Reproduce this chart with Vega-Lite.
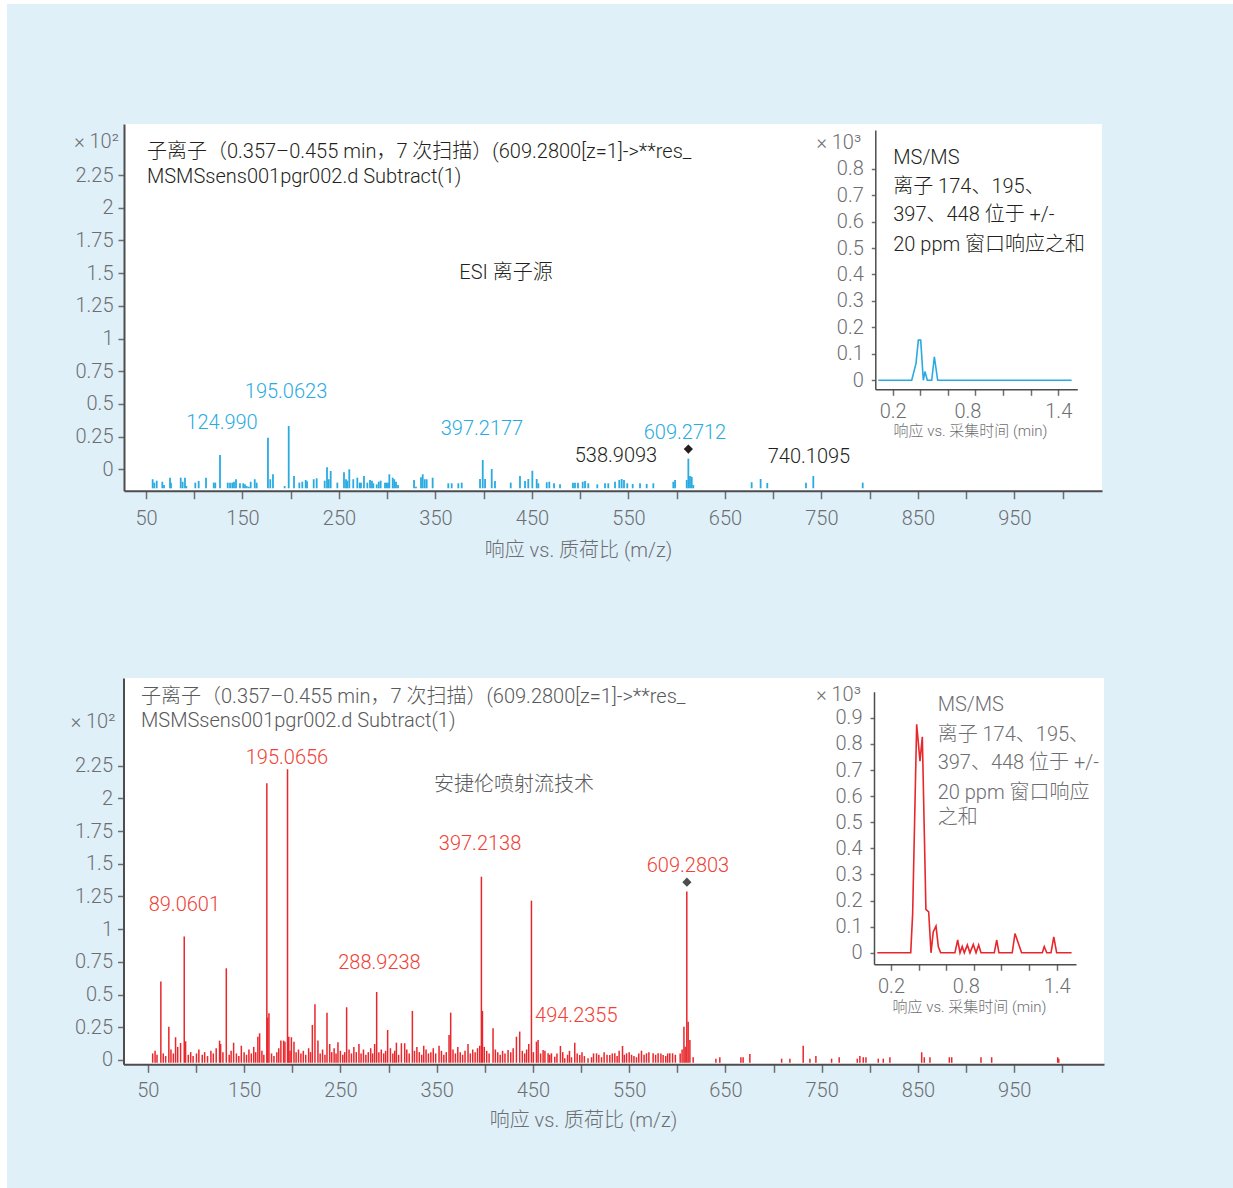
{
  "$schema": "https://vega.github.io/schema/vega-lite/v6.json",
  "width": 1226,
  "height": 1184,
  "autosize": {"type": "none"},
  "padding": {"left": 7, "top": 4, "right": 0, "bottom": 0},
  "background": "#ffffff",
  "config": {
    "view": {"stroke": null, "fill": "#dff0f9"},
    "font": "Roboto, 'Noto Sans CJK SC', sans-serif",
    "text": {"fontWeight": 300, "fontSize": 20},
    "axis": {
      "grid": false,
      "labelFont": "Roboto, 'Noto Sans CJK SC', sans-serif",
      "titleFont": "Roboto, 'Noto Sans CJK SC', sans-serif",
      "labelColor": "#6d6e71",
      "titleColor": "#6d6e71",
      "labelFontSize": 20,
      "labelFontWeight": 300,
      "titleFontWeight": 300,
      "domainColor": "#4d4d4f",
      "tickColor": "#6d6e71",
      "tickWidth": 1.5,
      "labelFlush": false,
      "labelOverlap": false
    }
  },
  "datasets": {
    "panel": [{"panel": "spectrum"}],
    "topbars": [
      {"mz": 56.9, "intensity": -0.076}, {"mz": 58.6, "intensity": -0.102}, {"mz": 61.1, "intensity": -0.087}, {"mz": 66.9, "intensity": -0.095},
      {"mz": 68.7, "intensity": -0.12}, {"mz": 74.9, "intensity": -0.064}, {"mz": 75.9, "intensity": -0.102}, {"mz": 86.0, "intensity": -0.064},
      {"mz": 88.0, "intensity": -0.095}, {"mz": 90.4, "intensity": -0.064}, {"mz": 91.8, "intensity": -0.128}, {"mz": 101.1, "intensity": -0.102},
      {"mz": 104.6, "intensity": -0.089}, {"mz": 112.2, "intensity": -0.064}, {"mz": 120.2, "intensity": -0.102}, {"mz": 121.8, "intensity": -0.102},
      {"mz": 126.7, "intensity": 0.109}, {"mz": 134.7, "intensity": -0.102}, {"mz": 137.1, "intensity": -0.102}, {"mz": 139.4, "intensity": -0.102},
      {"mz": 141.2, "intensity": -0.095}, {"mz": 143.3, "intensity": -0.076}, {"mz": 147.4, "intensity": -0.107}, {"mz": 150.8, "intensity": -0.107},
      {"mz": 152.6, "intensity": -0.115}, {"mz": 154.4, "intensity": -0.128}, {"mz": 156.4, "intensity": -0.133}, {"mz": 158.5, "intensity": -0.095},
      {"mz": 162.7, "intensity": -0.076}, {"mz": 164.7, "intensity": -0.102}, {"mz": 176.4, "intensity": 0.242}, {"mz": 178.8, "intensity": -0.076},
      {"mz": 181.6, "intensity": -0.038}, {"mz": 193.7, "intensity": -0.128}, {"mz": 197.9, "intensity": 0.331}, {"mz": 203.4, "intensity": -0.051},
      {"mz": 208.9, "intensity": -0.102}, {"mz": 212.0, "intensity": -0.095}, {"mz": 215.5, "intensity": -0.082}, {"mz": 216.9, "intensity": -0.092},
      {"mz": 223.8, "intensity": -0.076}, {"mz": 226.9, "intensity": -0.069}, {"mz": 235.2, "intensity": -0.087}, {"mz": 237.6, "intensity": 0.015},
      {"mz": 239.4, "intensity": -0.076}, {"mz": 241.4, "intensity": -0.013}, {"mz": 248.3, "intensity": -0.102}, {"mz": 255.2, "intensity": -0.023},
      {"mz": 257.3, "intensity": -0.076}, {"mz": 258.6, "intensity": -0.087}, {"mz": 260.7, "intensity": 0.0}, {"mz": 264.8, "intensity": -0.076},
      {"mz": 269.0, "intensity": -0.064}, {"mz": 271.5, "intensity": -0.102}, {"mz": 272.8, "intensity": -0.102}, {"mz": 275.9, "intensity": -0.051},
      {"mz": 279.4, "intensity": -0.102}, {"mz": 282.2, "intensity": -0.082}, {"mz": 284.2, "intensity": -0.087}, {"mz": 285.6, "intensity": -0.107},
      {"mz": 289.1, "intensity": -0.115}, {"mz": 291.2, "intensity": -0.095}, {"mz": 293.2, "intensity": -0.087}, {"mz": 297.7, "intensity": -0.102},
      {"mz": 299.3, "intensity": -0.102}, {"mz": 300.8, "intensity": -0.102}, {"mz": 302.2, "intensity": -0.038}, {"mz": 305.7, "intensity": -0.064},
      {"mz": 307.3, "intensity": -0.076}, {"mz": 309.1, "intensity": -0.095}, {"mz": 311.2, "intensity": -0.12}, {"mz": 327.8, "intensity": -0.082},
      {"mz": 329.8, "intensity": -0.133}, {"mz": 335.0, "intensity": -0.061}, {"mz": 336.8, "intensity": -0.038}, {"mz": 338.9, "intensity": -0.076},
      {"mz": 340.9, "intensity": -0.076}, {"mz": 347.1, "intensity": -0.064}, {"mz": 363.3, "intensity": -0.107}, {"mz": 366.8, "intensity": -0.107},
      {"mz": 373.7, "intensity": -0.107}, {"mz": 377.2, "intensity": -0.102}, {"mz": 396.2, "intensity": -0.074}, {"mz": 399.0, "intensity": 0.071},
      {"mz": 401.4, "intensity": -0.074}, {"mz": 408.3, "intensity": 0.002}, {"mz": 411.7, "intensity": -0.089}, {"mz": 428.0, "intensity": -0.102},
      {"mz": 437.6, "intensity": -0.051}, {"mz": 442.8, "intensity": -0.089}, {"mz": 446.2, "intensity": -0.074}, {"mz": 450.4, "intensity": -0.011},
      {"mz": 454.9, "intensity": -0.074}, {"mz": 456.6, "intensity": -0.107}, {"mz": 465.3, "intensity": -0.099}, {"mz": 468.0, "intensity": -0.095},
      {"mz": 472.9, "intensity": -0.107}, {"mz": 479.1, "intensity": -0.115}, {"mz": 492.5, "intensity": -0.102}, {"mz": 494.6, "intensity": -0.102},
      {"mz": 497.7, "intensity": -0.102}, {"mz": 502.6, "intensity": -0.095}, {"mz": 505.0, "intensity": -0.089}, {"mz": 508.4, "intensity": -0.107},
      {"mz": 517.7, "intensity": -0.115}, {"mz": 525.7, "intensity": -0.107}, {"mz": 529.1, "intensity": -0.107}, {"mz": 536.1, "intensity": -0.095},
      {"mz": 540.5, "intensity": -0.082}, {"mz": 543.0, "intensity": -0.074}, {"mz": 545.4, "intensity": -0.082}, {"mz": 548.8, "intensity": -0.107},
      {"mz": 554.4, "intensity": -0.112}, {"mz": 562.0, "intensity": -0.107}, {"mz": 568.9, "intensity": -0.112}, {"mz": 575.8, "intensity": -0.107},
      {"mz": 596.5, "intensity": -0.095}, {"mz": 598.3, "intensity": -0.082}, {"mz": 610.4, "intensity": -0.082}, {"mz": 612.1, "intensity": 0.081},
      {"mz": 613.8, "intensity": -0.051}, {"mz": 615.6, "intensity": -0.057}, {"mz": 617.2, "intensity": -0.12}, {"mz": 677.7, "intensity": -0.099},
      {"mz": 687.0, "intensity": -0.074}, {"mz": 693.9, "intensity": -0.105}, {"mz": 734.0, "intensity": -0.102}, {"mz": 741.6, "intensity": -0.051},
      {"mz": 792.8, "intensity": -0.102}
    ],
    "toptitle": [
      {"mz": 51, "intensity": 2.426, "label": "子离子（0.357–0.455 min，7 次扫描）(609.2800[z=1]->**res_"},
      {"mz": 51, "intensity": 2.236, "label": "MSMSsens001pgr002.d Subtract(1)"}
    ],
    "topsource": [{"mz": 423.1, "intensity": 1.501, "label": "ESI 离子源"}],
    "toppeaks": [
      {"mz": 195.1, "intensity": 0.591, "label": "195.0623"},
      {"mz": 128.8, "intensity": 0.354, "label": "124.990"},
      {"mz": 398.2, "intensity": 0.308, "label": "397.2177"},
      {"mz": 608.6, "intensity": 0.278, "label": "609.2712"}
    ],
    "topother": [
      {"mz": 537.1, "intensity": 0.102, "label": "538.9093"},
      {"mz": 737.1, "intensity": 0.094, "label": "740.1095"}
    ],
    "topprecursor": [{"mz": 612.1, "intensity": 0.155}],
    "topchrom": [
      {"time": 0.096, "response": 0}, {"time": 0.338, "response": 0}, {"time": 0.369, "response": 0.064},
      {"time": 0.386, "response": 0.152}, {"time": 0.403, "response": 0.152}, {"time": 0.422, "response": 0},
      {"time": 0.434, "response": 0.033}, {"time": 0.451, "response": 0}, {"time": 0.483, "response": 0},
      {"time": 0.502, "response": 0.089}, {"time": 0.526, "response": 0}, {"time": 1.497, "response": 0}
    ],
    "topnote": [
      {"time": 0.204, "response": 0.839, "label": "MS/MS"},
      {"time": 0.204, "response": 0.732, "label": "离子 174、195、"},
      {"time": 0.204, "response": 0.623, "label": "397、448 位于 +/-"},
      {"time": 0.204, "response": 0.512, "label": "20 ppm 窗口响应之和"}
    ],
    "botbars": [
      {"mz": 55.0, "intensity": 0.05}, {"mz": 57.5, "intensity": 0.07}, {"mz": 59.5, "intensity": 0.04}, {"mz": 63.5, "intensity": 0.599},
      {"mz": 66.0, "intensity": 0.05}, {"mz": 68.5, "intensity": 0.03}, {"mz": 71.8, "intensity": 0.255}, {"mz": 74.0, "intensity": 0.08},
      {"mz": 76.5, "intensity": 0.05}, {"mz": 78.8, "intensity": 0.174}, {"mz": 81.0, "intensity": 0.1}, {"mz": 84.0, "intensity": 0.13},
      {"mz": 87.8, "intensity": 0.943}, {"mz": 89.2, "intensity": 0.143}, {"mz": 92.0, "intensity": 0.04}, {"mz": 94.5, "intensity": 0.06},
      {"mz": 97.0, "intensity": 0.03}, {"mz": 100.5, "intensity": 0.05}, {"mz": 103.0, "intensity": 0.08}, {"mz": 106.5, "intensity": 0.04},
      {"mz": 109.0, "intensity": 0.06}, {"mz": 112.0, "intensity": 0.03}, {"mz": 115.5, "intensity": 0.07}, {"mz": 118.0, "intensity": 0.05},
      {"mz": 121.0, "intensity": 0.09}, {"mz": 124.5, "intensity": 0.148}, {"mz": 125.6, "intensity": 0.122}, {"mz": 128.0, "intensity": 0.06},
      {"mz": 131.5, "intensity": 0.701}, {"mz": 134.5, "intensity": 0.04}, {"mz": 136.5, "intensity": 0.07}, {"mz": 139.1, "intensity": 0.132},
      {"mz": 142.0, "intensity": 0.05}, {"mz": 144.5, "intensity": 0.03}, {"mz": 147.1, "intensity": 0.109}, {"mz": 150.0, "intensity": 0.06},
      {"mz": 152.5, "intensity": 0.04}, {"mz": 155.0, "intensity": 0.08}, {"mz": 157.5, "intensity": 0.05}, {"mz": 160.0, "intensity": 0.1},
      {"mz": 162.0, "intensity": 0.06}, {"mz": 164.3, "intensity": 0.178}, {"mz": 166.1, "intensity": 0.204}, {"mz": 168.5, "intensity": 0.07},
      {"mz": 170.5, "intensity": 0.04}, {"mz": 173.6, "intensity": 2.115}, {"mz": 174.4, "intensity": 0.324}, {"mz": 175.8, "intensity": 0.357},
      {"mz": 178.5, "intensity": 0.05}, {"mz": 181.0, "intensity": 0.03}, {"mz": 184.0, "intensity": 0.06}, {"mz": 186.0, "intensity": 0.09},
      {"mz": 188.2, "intensity": 0.148}, {"mz": 191.0, "intensity": 0.148}, {"mz": 192.4, "intensity": 0.14}, {"mz": 195.1, "intensity": 2.222},
      {"mz": 196.4, "intensity": 0.178}, {"mz": 197.7, "intensity": 0.07}, {"mz": 199.1, "intensity": 0.174}, {"mz": 201.8, "intensity": 0.14},
      {"mz": 204.0, "intensity": 0.06}, {"mz": 206.5, "intensity": 0.08}, {"mz": 209.0, "intensity": 0.05}, {"mz": 211.5, "intensity": 0.07},
      {"mz": 214.0, "intensity": 0.04}, {"mz": 217.0, "intensity": 0.09}, {"mz": 219.0, "intensity": 0.06}, {"mz": 220.9, "intensity": 0.268},
      {"mz": 223.6, "intensity": 0.426}, {"mz": 226.7, "intensity": 0.148}, {"mz": 229.0, "intensity": 0.05}, {"mz": 231.5, "intensity": 0.08},
      {"mz": 234.0, "intensity": 0.04}, {"mz": 236.1, "intensity": 0.362}, {"mz": 238.9, "intensity": 0.122}, {"mz": 241.0, "intensity": 0.06},
      {"mz": 243.5, "intensity": 0.09}, {"mz": 245.5, "intensity": 0.05}, {"mz": 247.5, "intensity": 0.135}, {"mz": 250.0, "intensity": 0.07},
      {"mz": 252.5, "intensity": 0.04}, {"mz": 254.5, "intensity": 0.06}, {"mz": 256.5, "intensity": 0.403}, {"mz": 259.0, "intensity": 0.08},
      {"mz": 261.5, "intensity": 0.05}, {"mz": 264.0, "intensity": 0.1}, {"mz": 266.5, "intensity": 0.06}, {"mz": 269.3, "intensity": 0.122},
      {"mz": 271.5, "intensity": 0.05}, {"mz": 274.0, "intensity": 0.08}, {"mz": 276.5, "intensity": 0.04}, {"mz": 279.0, "intensity": 0.06},
      {"mz": 281.5, "intensity": 0.09}, {"mz": 283.5, "intensity": 0.05}, {"mz": 285.6, "intensity": 0.122}, {"mz": 287.7, "intensity": 0.52},
      {"mz": 290.0, "intensity": 0.06}, {"mz": 292.5, "intensity": 0.08}, {"mz": 295.0, "intensity": 0.05}, {"mz": 297.0, "intensity": 0.07},
      {"mz": 299.1, "intensity": 0.229}, {"mz": 302.0, "intensity": 0.09}, {"mz": 304.5, "intensity": 0.05}, {"mz": 306.5, "intensity": 0.07},
      {"mz": 308.2, "intensity": 0.132}, {"mz": 310.5, "intensity": 0.04}, {"mz": 313.4, "intensity": 0.128}, {"mz": 316.8, "intensity": 0.128},
      {"mz": 319.0, "intensity": 0.08}, {"mz": 321.5, "intensity": 0.05}, {"mz": 324.8, "intensity": 0.375}, {"mz": 327.0, "intensity": 0.07},
      {"mz": 329.5, "intensity": 0.1}, {"mz": 332.0, "intensity": 0.06}, {"mz": 334.5, "intensity": 0.04}, {"mz": 336.6, "intensity": 0.109},
      {"mz": 339.0, "intensity": 0.08}, {"mz": 341.5, "intensity": 0.05}, {"mz": 344.0, "intensity": 0.06}, {"mz": 346.5, "intensity": 0.09},
      {"mz": 349.0, "intensity": 0.05}, {"mz": 352.5, "intensity": 0.109}, {"mz": 355.0, "intensity": 0.07}, {"mz": 357.5, "intensity": 0.04},
      {"mz": 360.0, "intensity": 0.06}, {"mz": 362.9, "intensity": 0.191}, {"mz": 364.6, "intensity": 0.362}, {"mz": 367.0, "intensity": 0.08},
      {"mz": 369.5, "intensity": 0.05}, {"mz": 372.0, "intensity": 0.1}, {"mz": 374.5, "intensity": 0.06}, {"mz": 377.0, "intensity": 0.04},
      {"mz": 379.5, "intensity": 0.07}, {"mz": 382.6, "intensity": 0.122}, {"mz": 385.0, "intensity": 0.05}, {"mz": 387.5, "intensity": 0.08},
      {"mz": 390.0, "intensity": 0.06}, {"mz": 392.5, "intensity": 0.09}, {"mz": 394.8, "intensity": 0.109}, {"mz": 396.5, "intensity": 1.401},
      {"mz": 397.6, "intensity": 0.375}, {"mz": 399.5, "intensity": 0.1}, {"mz": 402.0, "intensity": 0.07}, {"mz": 404.5, "intensity": 0.05},
      {"mz": 408.6, "intensity": 0.242}, {"mz": 411.0, "intensity": 0.08}, {"mz": 413.5, "intensity": 0.06}, {"mz": 416.0, "intensity": 0.04},
      {"mz": 418.5, "intensity": 0.07}, {"mz": 421.0, "intensity": 0.05}, {"mz": 424.2, "intensity": 0.076}, {"mz": 427.0, "intensity": 0.06},
      {"mz": 429.5, "intensity": 0.09}, {"mz": 432.9, "intensity": 0.178}, {"mz": 436.3, "intensity": 0.217}, {"mz": 439.0, "intensity": 0.07},
      {"mz": 441.5, "intensity": 0.05}, {"mz": 443.5, "intensity": 0.08}, {"mz": 445.7, "intensity": 0.122}, {"mz": 448.5, "intensity": 1.218},
      {"mz": 450.5, "intensity": 0.06}, {"mz": 453.7, "intensity": 0.14}, {"mz": 455.4, "intensity": 0.153}, {"mz": 458.0, "intensity": 0.05},
      {"mz": 460.6, "intensity": 0.076}, {"mz": 462.5, "intensity": 0.07}, {"mz": 465.8, "intensity": 0.051}, {"mz": 467.5, "intensity": 0.04},
      {"mz": 469.3, "intensity": 0.051}, {"mz": 472.7, "intensity": 0.025}, {"mz": 475.0, "intensity": 0.05}, {"mz": 478.6, "intensity": 0.107},
      {"mz": 481.0, "intensity": 0.06}, {"mz": 483.1, "intensity": 0.013}, {"mz": 486.0, "intensity": 0.04}, {"mz": 488.0, "intensity": 0.07},
      {"mz": 490.1, "intensity": 0.021}, {"mz": 493.5, "intensity": 0.132}, {"mz": 496.0, "intensity": 0.05}, {"mz": 498.7, "intensity": 0.038},
      {"mz": 501.0, "intensity": 0.06}, {"mz": 503.5, "intensity": 0.03}, {"mz": 507.3, "intensity": 0.013}, {"mz": 510.9, "intensity": 0.021},
      {"mz": 513.0, "intensity": 0.05}, {"mz": 516.1, "intensity": 0.051}, {"mz": 518.5, "intensity": 0.04}, {"mz": 521.3, "intensity": 0.021},
      {"mz": 524.0, "intensity": 0.06}, {"mz": 527.0, "intensity": 0.04}, {"mz": 529.9, "intensity": 0.038}, {"mz": 532.5, "intensity": 0.05},
      {"mz": 535.1, "intensity": 0.051}, {"mz": 537.5, "intensity": 0.03}, {"mz": 539.6, "intensity": 0.071}, {"mz": 543.1, "intensity": 0.107},
      {"mz": 545.0, "intensity": 0.04}, {"mz": 547.3, "intensity": 0.051}, {"mz": 550.0, "intensity": 0.06}, {"mz": 552.5, "intensity": 0.04},
      {"mz": 555.0, "intensity": 0.03}, {"mz": 557.6, "intensity": 0.021}, {"mz": 560.0, "intensity": 0.05}, {"mz": 562.8, "intensity": 0.071},
      {"mz": 565.5, "intensity": 0.04}, {"mz": 568.0, "intensity": 0.051}, {"mz": 570.5, "intensity": 0.06}, {"mz": 574.9, "intensity": 0.051},
      {"mz": 577.5, "intensity": 0.04}, {"mz": 580.1, "intensity": 0.051}, {"mz": 583.0, "intensity": 0.05}, {"mz": 585.3, "intensity": 0.038},
      {"mz": 588.0, "intensity": 0.03}, {"mz": 590.0, "intensity": 0.05}, {"mz": 592.2, "intensity": 0.051}, {"mz": 595.1, "intensity": 0.051},
      {"mz": 598.0, "intensity": 0.04}, {"mz": 603.0, "intensity": 0.05}, {"mz": 605.0, "intensity": 0.08}, {"mz": 606.9, "intensity": 0.255},
      {"mz": 608.2, "intensity": 0.102}, {"mz": 609.9, "intensity": 1.287}, {"mz": 611.3, "intensity": 0.293}, {"mz": 613.1, "intensity": 0.153},
      {"mz": 616.5, "intensity": 0.021}, {"mz": 640.1, "intensity": 0.01}, {"mz": 644.2, "intensity": 0.021}, {"mz": 666.1, "intensity": 0.021},
      {"mz": 668.4, "intensity": 0.021}, {"mz": 675.4, "intensity": 0.046}, {"mz": 708.4, "intensity": 0.01}, {"mz": 717.0, "intensity": 0.01},
      {"mz": 730.8, "intensity": 0.109}, {"mz": 737.8, "intensity": 0.01}, {"mz": 744.0, "intensity": 0.031}, {"mz": 760.3, "intensity": 0.01},
      {"mz": 768.2, "intensity": 0.021}, {"mz": 787.0, "intensity": 0.01}, {"mz": 789.7, "intensity": 0.031}, {"mz": 793.2, "intensity": 0.021},
      {"mz": 796.0, "intensity": 0.021}, {"mz": 808.8, "intensity": 0.01}, {"mz": 814.0, "intensity": 0.01}, {"mz": 820.9, "intensity": 0.021},
      {"mz": 853.9, "intensity": 0.059}, {"mz": 856.6, "intensity": 0.021}, {"mz": 862.5, "intensity": 0.021}, {"mz": 882.6, "intensity": 0.021},
      {"mz": 885.1, "intensity": 0.021}, {"mz": 915.5, "intensity": 0.021}, {"mz": 926.6, "intensity": 0.021}, {"mz": 995.2, "intensity": 0.021},
      {"mz": 996.3, "intensity": 0.01}
    ],
    "bottitle": [
      {"mz": 42.9, "intensity": 2.775, "label": "子离子（0.357–0.455 min，7 次扫描）(609.2800[z=1]->**res_"},
      {"mz": 42.9, "intensity": 2.592, "label": "MSMSsens001pgr002.d Subtract(1)"}
    ],
    "botsource": [{"mz": 430.4, "intensity": 2.102, "label": "安捷伦喷射流技术"}],
    "botpeaks": [
      {"mz": 194.5, "intensity": 2.307, "label": "195.0656"},
      {"mz": 395.1, "intensity": 1.651, "label": "397.2138"},
      {"mz": 611.1, "intensity": 1.483, "label": "609.2803"},
      {"mz": 87.9, "intensity": 1.185, "label": "89.0601"},
      {"mz": 290.6, "intensity": 0.739, "label": "288.9238"},
      {"mz": 495.1, "intensity": 0.336, "label": "494.2355"}
    ],
    "botprecursor": [{"mz": 610.0, "intensity": 1.359}],
    "botchrom": [
      {"time": 0.101, "response": 0}, {"time": 0.343, "response": 0}, {"time": 0.357, "response": 0.151},
      {"time": 0.386, "response": 0.875}, {"time": 0.41, "response": 0.734}, {"time": 0.427, "response": 0.827},
      {"time": 0.453, "response": 0.166}, {"time": 0.473, "response": 0.157}, {"time": 0.49, "response": 0},
      {"time": 0.506, "response": 0.08}, {"time": 0.526, "response": 0.102}, {"time": 0.543, "response": 0.023},
      {"time": 0.56, "response": 0}, {"time": 0.663, "response": 0}, {"time": 0.683, "response": 0.049},
      {"time": 0.7, "response": 0}, {"time": 0.716, "response": 0.024}, {"time": 0.731, "response": 0},
      {"time": 0.753, "response": 0.03}, {"time": 0.772, "response": 0}, {"time": 0.796, "response": 0.032},
      {"time": 0.816, "response": 0}, {"time": 0.835, "response": 0.03}, {"time": 0.852, "response": 0},
      {"time": 0.948, "response": 0}, {"time": 0.966, "response": 0.049}, {"time": 0.982, "response": 0},
      {"time": 1.078, "response": 0}, {"time": 1.098, "response": 0.074}, {"time": 1.146, "response": 0},
      {"time": 1.296, "response": 0}, {"time": 1.31, "response": 0.024}, {"time": 1.328, "response": 0},
      {"time": 1.359, "response": 0}, {"time": 1.379, "response": 0.061}, {"time": 1.4, "response": 0},
      {"time": 1.508, "response": 0}
    ],
    "botnote": [
      {"time": 0.538, "response": 0.949, "label": "MS/MS"},
      {"time": 0.538, "response": 0.834, "label": "离子 174、195、"},
      {"time": 0.538, "response": 0.726, "label": "397、448 位于 +/-"},
      {"time": 0.538, "response": 0.612, "label": "20 ppm 窗口响应"},
      {"time": 0.538, "response": 0.515, "label": "之和"}
    ]
  },
  "layer": [
    {
      "layer": [
        {
          "data": {"name": "panel"},
          "mark": {"type": "rect", "color": "#ffffff"},
          "encoding": {
            "x": {
              "datum": 27.2, "type": "quantitative",
              "scale": {"domain": [27.2, 1040.8], "range": [117, 1095], "nice": false, "zero": false},
              "axis": {
                "orient": "bottom", "offset": -697.3, "zindex": 1,
                "values": [50, 100, 150, 200, 250, 300, 350, 400, 450, 500, 550, 600, 650, 700, 750, 800, 850, 900, 950, 1000],
                "labelExpr": "datum.value % 100 == 50 ? '' + datum.value : ''",
                "tickSize": 8, "labelPadding": 10, "domainWidth": 2,
                "title": "响应 vs. 质荷比 (m/z)", "titleFontSize": 20, "titleX": 571, "titlePadding": 12
              }
            },
            "x2": {"datum": 1040.8},
            "y": {
              "datum": -0.1636, "type": "quantitative",
              "scale": {"domain": [-0.1636, 2.64], "range": [486.7, 120], "nice": false, "zero": false},
              "axis": {
                "orient": "left", "offset": -117, "zindex": 1,
                "values": [0, 0.25, 0.5, 0.75, 1, 1.25, 1.5, 1.75, 2, 2.25],
                "labelExpr": "'' + datum.value",
                "tickSize": 6, "labelPadding": 5, "domainWidth": 2,
                "title": "× 10²", "titleAngle": 0, "titleFontSize": 20, "titleX": -28, "titleY": 137,
                "titleAlign": "center", "titleBaseline": "middle"
              }
            },
            "y2": {"datum": 2.64}
          }
        },
        {
          "data": {"name": "topbars"},
          "mark": {"type": "rule", "color": "#29abe2", "strokeWidth": 1.8},
          "encoding": {
            "x": {"field": "mz", "type": "quantitative"},
            "y": {"field": "intensity", "type": "quantitative"},
            "y2": {"datum": -0.145}
          }
        },
        {
          "data": {"name": "toptitle"},
          "mark": {"type": "text", "align": "left", "baseline": "middle", "color": "#231f20"},
          "encoding": {
            "x": {"field": "mz", "type": "quantitative"},
            "y": {"field": "intensity", "type": "quantitative"},
            "text": {"field": "label"}
          }
        },
        {
          "data": {"name": "topsource"},
          "mark": {"type": "text", "align": "center", "baseline": "middle", "color": "#231f20"},
          "encoding": {
            "x": {"field": "mz", "type": "quantitative"},
            "y": {"field": "intensity", "type": "quantitative"},
            "text": {"field": "label"}
          }
        },
        {
          "data": {"name": "toppeaks"},
          "mark": {"type": "text", "align": "center", "baseline": "middle", "color": "#29abe2"},
          "encoding": {
            "x": {"field": "mz", "type": "quantitative"},
            "y": {"field": "intensity", "type": "quantitative"},
            "text": {"field": "label"}
          }
        },
        {
          "data": {"name": "topother"},
          "mark": {"type": "text", "align": "center", "baseline": "middle", "color": "#231f20"},
          "encoding": {
            "x": {"field": "mz", "type": "quantitative"},
            "y": {"field": "intensity", "type": "quantitative"},
            "text": {"field": "label"}
          }
        },
        {
          "data": {"name": "topprecursor"},
          "mark": {"type": "point", "shape": "diamond", "filled": true, "color": "#231f20", "size": 85, "opacity": 1},
          "encoding": {
            "x": {"field": "mz", "type": "quantitative"},
            "y": {"field": "intensity", "type": "quantitative"}
          }
        }
      ]
    },
    {
      "layer": [
        {
          "data": {"name": "topchrom"},
          "mark": {"type": "line", "color": "#29abe2", "strokeWidth": 1.6},
          "encoding": {
            "x": {
              "field": "time", "type": "quantitative",
              "scale": {"domain": [0.074, 1.538], "range": [868.3, 1070.3], "nice": false, "zero": false},
              "axis": {
                "orient": "bottom", "offset": -798.7, "zindex": 1,
                "values": [0.2, 0.4, 0.6, 0.8, 1, 1.2, 1.4],
                "labelExpr": "datum.value == 0.2 || datum.value == 0.8 || datum.value == 1.4 ? '' + datum.value : ''",
                "labelOffset": {"condition": {"test": "datum.value == 0.8", "value": -8}, "value": 0},
                "tickSize": 6, "labelPadding": 6, "domainWidth": 1.5,
                "title": "响应 vs. 采集时间 (min)", "titleFontSize": 15, "titleX": 963, "titlePadding": 2
              }
            },
            "y": {
              "field": "response", "type": "quantitative",
              "scale": {"domain": [-0.034, 0.946], "range": [385.3, 126], "nice": false, "zero": false},
              "axis": {
                "orient": "left", "offset": -868.3, "zindex": 1,
                "values": [0, 0.1, 0.2, 0.3, 0.4, 0.5, 0.6, 0.7, 0.8],
                "labelExpr": "'' + datum.value",
                "tickSize": 4, "labelPadding": 8, "domainWidth": 1.5,
                "title": "× 10³", "titleAngle": 0, "titleFontSize": 20, "titleX": -37, "titleY": 138,
                "titleAlign": "center", "titleBaseline": "middle"
              }
            }
          }
        },
        {
          "data": {"name": "topnote"},
          "mark": {"type": "text", "align": "left", "baseline": "middle", "color": "#231f20"},
          "encoding": {
            "x": {"field": "time", "type": "quantitative"},
            "y": {"field": "response", "type": "quantitative"},
            "text": {"field": "label"}
          }
        }
      ]
    },
    {
      "layer": [
        {
          "data": {"name": "panel"},
          "mark": {"type": "rect", "color": "#ffffff"},
          "encoding": {
            "x": {
              "datum": 24.7, "type": "quantitative",
              "scale": {"domain": [24.7, 1043.3], "range": [116.5, 1097], "nice": false, "zero": false},
              "axis": {
                "orient": "bottom", "offset": -123.7, "zindex": 1,
                "values": [50, 100, 150, 200, 250, 300, 350, 400, 450, 500, 550, 600, 650, 700, 750, 800, 850, 900, 950, 1000],
                "labelExpr": "datum.value % 100 == 50 ? '' + datum.value : ''",
                "tickSize": 8, "labelPadding": 8, "domainWidth": 2,
                "title": "响应 vs. 质荷比 (m/z)", "titleFontSize": 20, "titleX": 576, "titlePadding": 10
              }
            },
            "x2": {"datum": 1043.3},
            "y": {
              "datum": -0.033, "type": "quantitative",
              "scale": {"domain": [-0.033, 2.92], "range": [1060.3, 674], "nice": false, "zero": false},
              "axis": {
                "orient": "left", "offset": -116.5, "zindex": 1,
                "values": [0, 0.25, 0.5, 0.75, 1, 1.25, 1.5, 1.75, 2, 2.25],
                "labelExpr": "'' + datum.value",
                "tickSize": 6, "labelPadding": 5, "domainWidth": 2,
                "title": "× 10²", "titleAngle": 0, "titleFontSize": 20, "titleX": -31, "titleY": 717,
                "titleAlign": "center", "titleBaseline": "middle"
              }
            },
            "y2": {"datum": 2.92}
          }
        },
        {
          "data": {"name": "botbars"},
          "mark": {"type": "rule", "color": "#e8262b", "strokeWidth": 1.5},
          "encoding": {
            "x": {"field": "mz", "type": "quantitative"},
            "y": {"field": "intensity", "type": "quantitative"},
            "y2": {"datum": -0.021}
          }
        },
        {
          "data": {"name": "bottitle"},
          "mark": {"type": "text", "align": "left", "baseline": "middle", "color": "#58595b"},
          "encoding": {
            "x": {"field": "mz", "type": "quantitative"},
            "y": {"field": "intensity", "type": "quantitative"},
            "text": {"field": "label"}
          }
        },
        {
          "data": {"name": "botsource"},
          "mark": {"type": "text", "align": "center", "baseline": "middle", "color": "#58595b"},
          "encoding": {
            "x": {"field": "mz", "type": "quantitative"},
            "y": {"field": "intensity", "type": "quantitative"},
            "text": {"field": "label"}
          }
        },
        {
          "data": {"name": "botpeaks"},
          "mark": {"type": "text", "align": "center", "baseline": "middle", "color": "#ef4136"},
          "encoding": {
            "x": {"field": "mz", "type": "quantitative"},
            "y": {"field": "intensity", "type": "quantitative"},
            "text": {"field": "label"}
          }
        },
        {
          "data": {"name": "botprecursor"},
          "mark": {"type": "point", "shape": "diamond", "filled": true, "color": "#4d4d4f", "size": 85, "opacity": 1},
          "encoding": {
            "x": {"field": "mz", "type": "quantitative"},
            "y": {"field": "intensity", "type": "quantitative"}
          }
        }
      ]
    },
    {
      "layer": [
        {
          "data": {"name": "botchrom"},
          "mark": {"type": "line", "color": "#e8262b", "strokeWidth": 1.6},
          "encoding": {
            "x": {
              "field": "time", "type": "quantitative",
              "scale": {"domain": [0.077, 1.54], "range": [867, 1069], "nice": false, "zero": false},
              "axis": {
                "orient": "bottom", "offset": -223.7, "zindex": 1,
                "values": [0.2, 0.4, 0.6, 0.8, 1, 1.2, 1.4],
                "labelExpr": "datum.value == 0.2 || datum.value == 0.8 || datum.value == 1.4 ? '' + datum.value : ''",
                "labelOffset": {"condition": {"test": "datum.value == 0.8", "value": -8}, "value": 0},
                "tickSize": 6, "labelPadding": 6, "domainWidth": 1.5,
                "title": "响应 vs. 采集时间 (min)", "titleFontSize": 15, "titleX": 962, "titlePadding": 3
              }
            },
            "y": {
              "field": "response", "type": "quantitative",
              "scale": {"domain": [-0.044, 1.0], "range": [960.3, 687.7], "nice": false, "zero": false},
              "axis": {
                "orient": "left", "offset": -867, "zindex": 1,
                "values": [0, 0.1, 0.2, 0.3, 0.4, 0.5, 0.6, 0.7, 0.8, 0.9],
                "labelExpr": "'' + datum.value",
                "tickSize": 4, "labelPadding": 8, "domainWidth": 1.5,
                "title": "× 10³", "titleAngle": 0, "titleFontSize": 20, "titleX": -36, "titleY": 690,
                "titleAlign": "center", "titleBaseline": "middle"
              }
            }
          }
        },
        {
          "data": {"name": "botnote"},
          "mark": {"type": "text", "align": "left", "baseline": "middle", "color": "#6d6e71"},
          "encoding": {
            "x": {"field": "time", "type": "quantitative"},
            "y": {"field": "response", "type": "quantitative"},
            "text": {"field": "label"}
          }
        }
      ]
    }
  ],
  "resolve": {
    "scale": {"x": "independent", "y": "independent"},
    "axis": {"x": "independent", "y": "independent"}
  }
}
